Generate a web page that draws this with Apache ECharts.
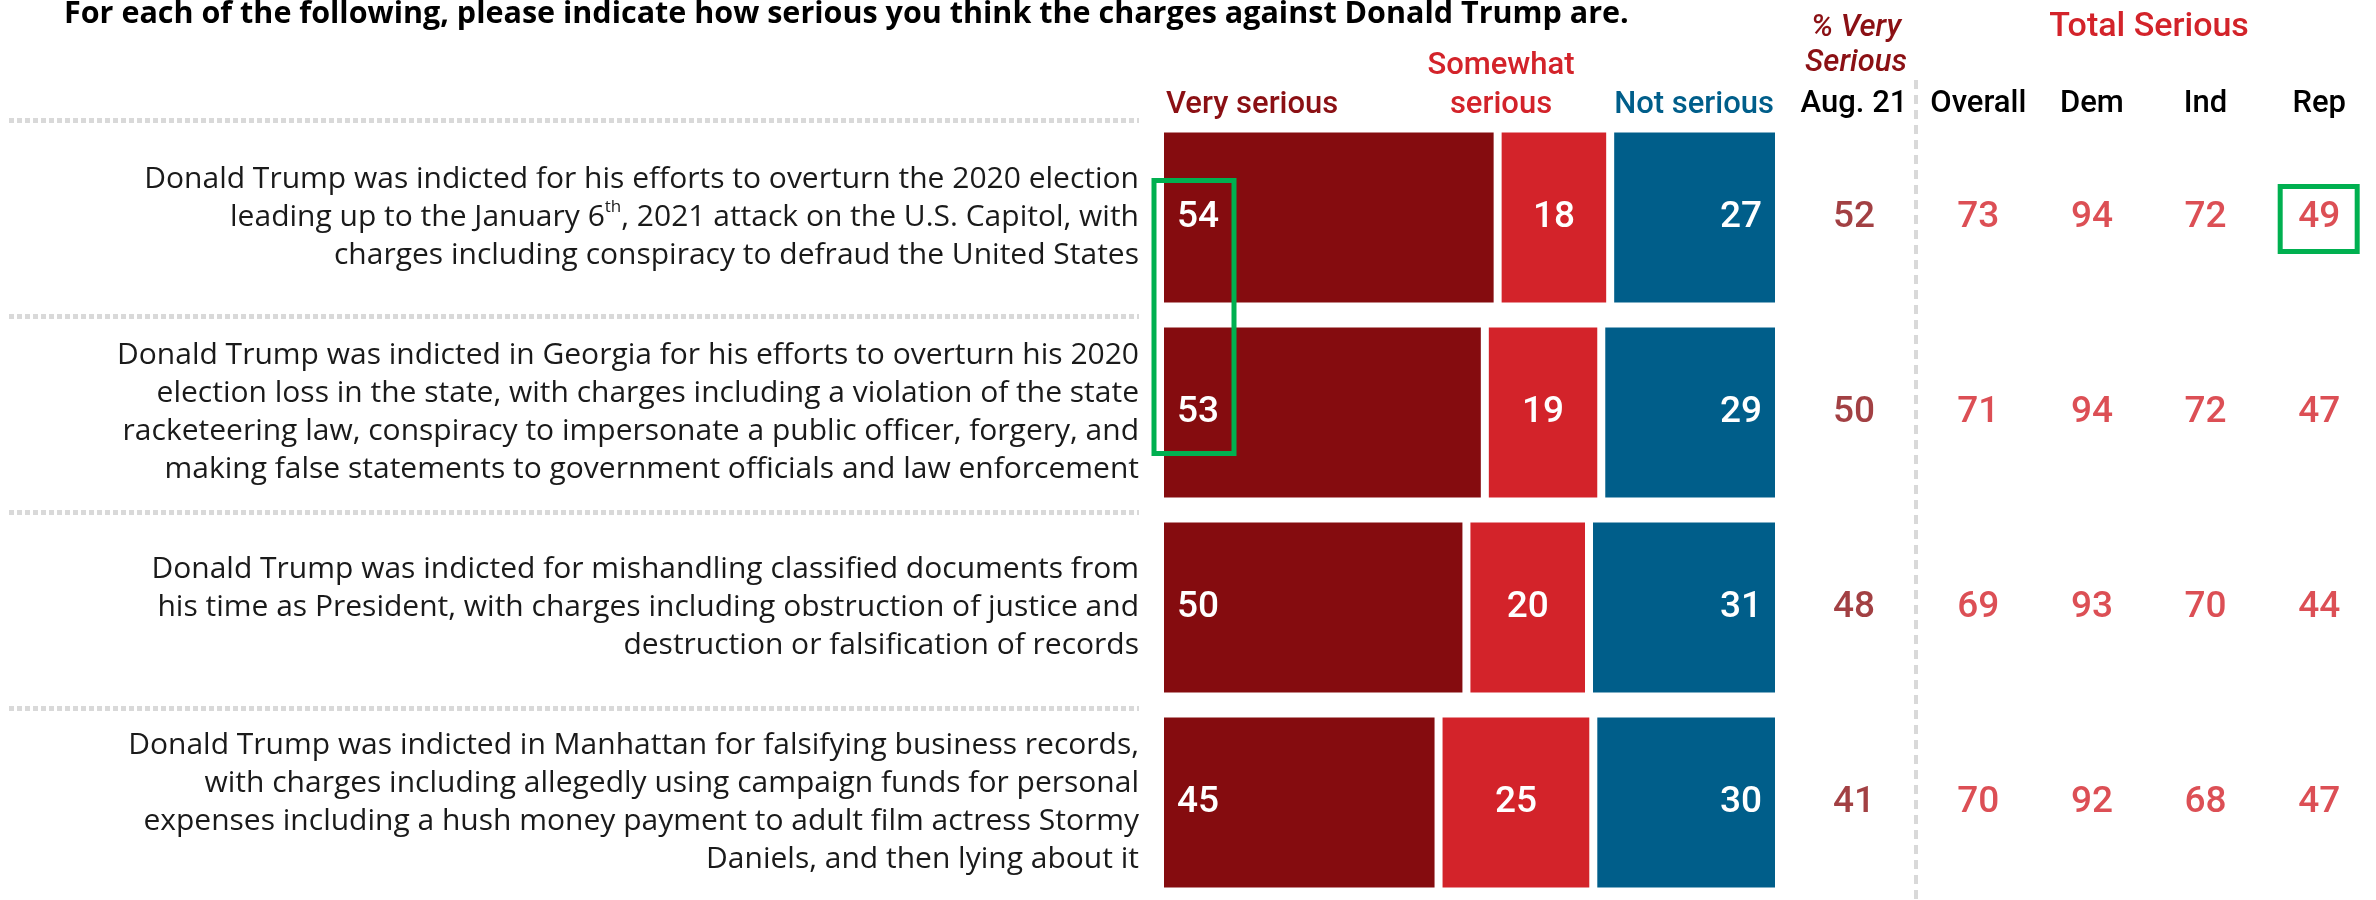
<!DOCTYPE html>
<html><head><meta charset="utf-8">
<script src="https://cdn.jsdelivr.net/npm/echarts@6/dist/echarts.min.js"></script>
<style>html,body{margin:0;padding:0;background:#fff}#c{width:2376px;height:900px}</style>
</head><body><div id="c"></div>
<script>
// ---------------- data ----------------
const chartTitle = 'For each of the following, please indicate how serious you think the charges against Donald Trump are.';
const rowLabels = [
  'Donald Trump was indicted for his efforts to overturn the 2020 election\nleading up to the January 6{sup|th}, 2021 attack on the U.S. Capitol, with\ncharges including conspiracy to defraud the United States',
  'Donald Trump was indicted in Georgia for his efforts to overturn his 2020\nelection loss in the state, with charges including a violation of the state\nracketeering law, conspiracy to impersonate a public officer, forgery, and\nmaking false statements to government officials and law enforcement',
  'Donald Trump was indicted for mishandling classified documents from\nhis time as President, with charges including obstruction of justice and\ndestruction or falsification of records',
  'Donald Trump was indicted in Manhattan for falsifying business records,\nwith charges including allegedly using campaign funds for personal\nexpenses including a hush money payment to adult film actress Stormy\nDaniels, and then lying about it'
];
const verySerious     = [54, 53, 50, 45];
const somewhatSerious = [18, 19, 20, 25];
const notSerious      = [27, 29, 31, 30];
const aug21VerySerious = [52, 50, 48, 41];
const totalOverall = [73, 71, 69, 70];
const totalDem     = [94, 94, 93, 92];
const totalInd     = [72, 72, 70, 68];
const totalRep     = [49, 47, 44, 47];
const segmentHeaders = ['Very serious', 'Somewhat', 'serious', 'Not serious'];
const augHeaders = ['Aug. 21'];
const totalHeaders = ['Overall', 'Dem', 'Ind', 'Rep'];
const pctHeader = ['% Very', 'Serious'];
const totalTitle = 'Total Serious';

// ---------------- style ----------------
const FONT = 'Roboto, "Liberation Sans", Arial, sans-serif';
const FONT_TXT = '"Open Sans", "Liberation Sans", sans-serif';
const W = 500;
const C_DARK = '#850c0f', C_RED = '#d3232a', C_BLUE = '#005e8a';
const C_DARK_TXT = '#8b1014';

const rowTotal = verySerious.map((v, i) => v + somewhatSerious[i] + notSerious[i]);
const share = (arr) => arr.map((v, i) => v / rowTotal[i] * 100);

function barSeries(name, arr, color, pos, dist) {
  return {
    name, type: 'bar', stack: 'bars', xAxisIndex: 0, yAxisIndex: 0,
    barWidth: 178, silent: true,
    data: share(arr),
    itemStyle: { color, borderColor: '#fff', borderWidth: 4 },
    label: { show: true, position: pos, distance: dist, color: '#fff', fontSize: 37, fontWeight: W, fontFamily: FONT,
             formatter: p => String(arr[p.dataIndex]) }
  };
}
function colSeries(name, arr, xi, col, color) {
  return {
    name, type: 'scatter', xAxisIndex: xi, yAxisIndex: xi, symbolSize: 1, silent: true,
    itemStyle: { color: 'rgba(0,0,0,0)' },
    data: arr.map((v, i) => [col, i, v]),
    label: { show: true, position: 'inside', color, fontSize: 37, fontWeight: W, fontFamily: FONT,
             formatter: p => String(p.value[2]) }
  };
}
const hiddenCatY = (gi) => ({ type: 'category', gridIndex: gi, data: rowLabels, inverse: true, show: false });
const topCatX = (gi, data) => ({
  type: 'category', gridIndex: gi, data, position: 'top',
  axisLine: { show: false }, axisTick: { show: false },
  axisLabel: { interval: 0, margin: 0, color: '#000', fontSize: 31, fontWeight: W, fontFamily: FONT }
});

const chart = echarts.init(document.getElementById('c'), null, { renderer: 'canvas' });
const txt = (text, x, y, color, size, align, extra) => ({
  type: 'text', x, y, silent: true,
  style: Object.assign({ text, fill: color, font: (extra && extra.font) || (W + ' ' + size + 'px ' + FONT),
                         textAlign: align, textVerticalAlign: 'middle' })
});

chart.setOption({
  backgroundColor: '#fff',
  animation: false,
  title: { text: chartTitle, left: 64, top: -1, padding: 0,
           textStyle: { fontSize: 30.5, fontWeight: 'bold', color: '#000', fontFamily: FONT_TXT } },
  grid: [
    { left: 1160, top: 120, width: 619, height: 784 },
    { left: 9, top: 120, width: 1130, height: 588 },
    { left: 1795, top: 120, width: 118, height: 784 },
    { left: 1921.5, top: 120, width: 460, height: 784 }
  ],
  xAxis: [
    { type: 'value', gridIndex: 0, min: 0, max: 100, show: false },
    { type: 'value', gridIndex: 1, min: 0, max: 1, show: false },
    topCatX(2, augHeaders),
    topCatX(3, totalHeaders)
  ],
  yAxis: [
    { type: 'category', gridIndex: 0, data: rowLabels, inverse: true,
      axisLine: { show: false }, axisTick: { show: false }, splitLine: { show: false },
      axisLabel: { interval: 0, margin: 21, align: 'right', fontSize: 30, lineHeight: 38,
                   color: '#1a1a1a', fontFamily: FONT_TXT,
                   rich: { sup: { fontSize: 17, lineHeight: 24, verticalAlign: 'top', align: 'right',
                                  color: '#1a1a1a', fontFamily: FONT_TXT } } } },
    { type: 'category', gridIndex: 1, data: rowLabels.slice(0, 3), inverse: true,
      axisLine: { show: false }, axisTick: { show: false }, axisLabel: { show: false },
      splitLine: { show: true, interval: 0, lineStyle: { color: '#d9d9d9', width: 5, type: [5, 3] } } },
    hiddenCatY(2),
    hiddenCatY(3)
  ],
  series: [
    barSeries('Very serious', verySerious, C_DARK, 'insideLeft', 17),
    barSeries('Somewhat serious', somewhatSerious, C_RED, 'inside', 0),
    barSeries('Not serious', notSerious, C_BLUE, 'insideRight', 17),
    colSeries('Aug. 21', aug21VerySerious, 2, 0, C_DARK_TXT),
    colSeries('Overall', totalOverall, 3, 0, C_RED),
    colSeries('Dem', totalDem, 3, 1, C_RED),
    colSeries('Ind', totalInd, 3, 2, C_RED),
    colSeries('Rep', totalRep, 3, 3, C_RED)
  ],
  graphic: [
    { type: 'line', silent: true, shape: { x1: 1916, y1: 80, x2: 1916, y2: 900 },
      style: { stroke: '#d9d9d9', lineWidth: 4, lineDash: [9, 6] } },
    txt(segmentHeaders[0], 1166, 105, C_DARK_TXT, 31, 'left'),
    txt(segmentHeaders[1], 1501, 66, C_RED, 31, 'center'),
    txt(segmentHeaders[2], 1501, 105, C_RED, 31, 'center'),
    txt(segmentHeaders[3], 1774, 105, C_BLUE, 31, 'right'),
    txt(pctHeader[0], 1856, 28, C_DARK_TXT, 31, 'center', { font: 'italic ' + W + ' 31px ' + FONT }),
    txt(pctHeader[1], 1856, 63, C_DARK_TXT, 31, 'center', { font: 'italic ' + W + ' 31px ' + FONT }),
    txt(totalTitle, 2149, 27, C_RED, 34, 'center')
  ]
});

// highlight boxes (annotations) positioned from the axes
const p0 = chart.convertToPixel({ gridIndex: 0 }, [0, 0]);
const p1 = chart.convertToPixel({ gridIndex: 0 }, [0, 1]);
const pr = chart.convertToPixel({ xAxisIndex: 3, yAxisIndex: 3 }, [3, 0]);
chart.setOption({
  graphic: [
    { id: 'box1', type: 'rect', silent: true, z: 100,
      shape: { x: p0[0] - 6, y: p0[1] - 37, width: 80, height: (p1[1] + 41) - (p0[1] - 37) },
      style: { fill: 'none', stroke: '#00b050', lineWidth: 5 } },
    { id: 'box2', type: 'rect', silent: true, z: 100,
      shape: { x: pr[0] - 39, y: pr[1] - 31, width: 77, height: 65 },
      style: { fill: 'none', stroke: '#00b050', lineWidth: 5 } }
  ]
});
</script></body></html>
